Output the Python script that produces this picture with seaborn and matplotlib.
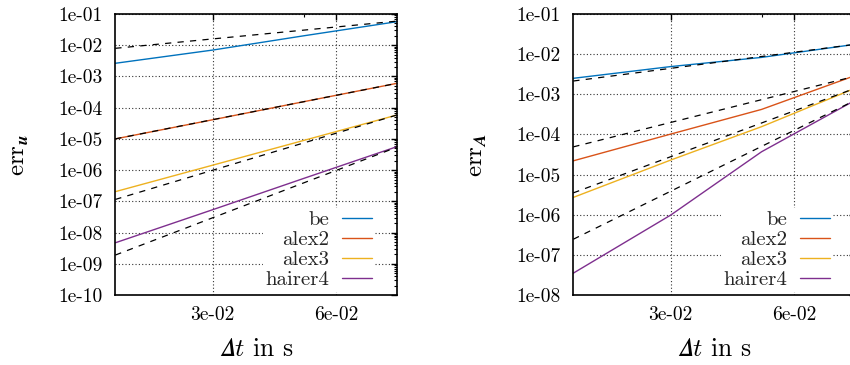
import numpy as np
import pandas as pd
import matplotlib
matplotlib.use('Agg')
import matplotlib.pyplot as plt
import seaborn as sns
from matplotlib.ticker import FixedLocator, NullFormatter, LogLocator
from matplotlib.lines import Line2D

# ---------------- data ----------------
methods = ['be', 'alex2', 'alex3', 'hairer4']
colors = ['#0072bd', '#d95319', '#edb120', '#7e2f8e']
dt = [0.01735, 0.03, 0.05, 0.0844]
ref_dt = [0.01735, 0.0844]

err_u_be = [2.64e-3, 7.0e-3, 2.0e-2, 5.66e-2]
err_u_alex2 = [1.0e-5, 4.1e-5, 1.55e-4, 6.0e-4]
err_u_alex3 = [2.04e-7, 1.44e-6, 8.9e-6, 5.8e-5]
err_u_hairer4 = [4.7e-9, 5.4e-8, 5.4e-7, 5.6e-6]

ref_u_be = [7.96e-3, 5.9e-2]
ref_u_alex2 = [1.0e-5, 6.0e-4]
ref_u_alex3 = [1.15e-7, 5.8e-5]
ref_u_hairer4 = [1.9e-9, 5.4e-6]

err_A_be = [2.5e-3, 4.9e-3, 8.3e-3, 1.75e-2]
err_A_alex2 = [2.2e-5, 1.02e-4, 4.2e-4, 2.9e-3]
err_A_alex3 = [2.7e-6, 2.3e-5, 1.56e-4, 1.4e-3]
err_A_hairer4 = [3.5e-8, 9.8e-7, 3.7e-5, 7.0e-4]

ref_A_be = [2.14e-3, 1.75e-2]
ref_A_alex2 = [4.9e-5, 2.8e-3]
ref_A_alex3 = [3.5e-6, 1.4e-3]
ref_A_hairer4 = [2.45e-7, 7.0e-4]

ytick_labels_u = ['1e-01', '1e-02', '1e-03', '1e-04', '1e-05', '1e-06',
                  '1e-07', '1e-08', '1e-09', '1e-10']
ytick_labels_A = ['1e-01', '1e-02', '1e-03', '1e-04', '1e-05', '1e-06',
                  '1e-07', '1e-08']
xtick_labels = ['3e-02', '6e-02']
xminor = [0.05]


def long_frame(xs, series):
    rows = []
    for m, vals in zip(methods, series):
        for x, y in zip(xs, vals):
            rows.append((m, x, y))
    return pd.DataFrame(rows, columns=['method', 'dt', 'err'])


df_u = long_frame(dt, [err_u_be, err_u_alex2, err_u_alex3, err_u_hairer4])
rf_u = long_frame(ref_dt, [ref_u_be, ref_u_alex2, ref_u_alex3, ref_u_hairer4])
df_A = long_frame(dt, [err_A_be, err_A_alex2, err_A_alex3, err_A_hairer4])
rf_A = long_frame(ref_dt, [ref_A_be, ref_A_alex2, ref_A_alex3, ref_A_hairer4])

# ---------------- style ----------------
sns.set_style('white')
plt.rcParams['font.family'] = ['cmr10', 'DejaVu Serif']
plt.rcParams['mathtext.fontset'] = 'cm'
plt.rcParams['axes.formatter.use_mathtext'] = True
plt.rcParams['axes.unicode_minus'] = False

fig = plt.figure(figsize=(8.5, 3.65), dpi=100)
W, H = 850.0, 365.0
ax1 = fig.add_axes([115.3 / W, 70 / H, 281.4 / W, 281 / H])
ax2 = fig.add_axes([573.3 / W, 70 / H, 281.4 / W, 281 / H])

XLABEL = '$\U0001D6E5t$ in s'
XLABEL_FALLBACK = r'$\Delta t$ in s'


def draw(ax, df, rf, ylabels, ylabel):
    ax.set_xscale('log')
    ax.set_yscale('log')
    sns.lineplot(data=df, x='dt', y='err', hue='method', hue_order=methods,
                 palette=colors, ax=ax, legend=False, errorbar=None,
                 sort=False, linewidth=1.0, zorder=2)
    sns.lineplot(data=rf, x='dt', y='err', units='method', estimator=None,
                 color='black', ax=ax, legend=False, linewidth=0.9,
                 linestyle=(0, (5, 5)), zorder=3)
    yt = [float(s) for s in ylabels]
    ax.set_ylim(min(yt), max(yt))
    ax.set_xlim(dt[0], dt[-1])
    ax.yaxis.set_major_locator(FixedLocator(yt))
    ax.set_yticklabels(ylabels)
    ax.yaxis.set_minor_locator(LogLocator(base=10, subs=np.arange(2, 10), numticks=50))
    ax.yaxis.set_minor_formatter(NullFormatter())
    xt = [float(s) for s in xtick_labels]
    ax.xaxis.set_major_locator(FixedLocator(xt))
    ax.set_xticklabels(xtick_labels)
    ax.xaxis.set_minor_locator(FixedLocator(xminor))
    ax.xaxis.set_minor_formatter(NullFormatter())
    ax.tick_params(which='both', direction='in', top=True, right=True,
                   labelsize=14, colors='black')
    ax.tick_params(which='major', length=4, width=1.0)
    ax.tick_params(which='minor', length=2.2, width=0.8)
    ax.tick_params(axis='y', pad=9)
    ax.tick_params(axis='x', pad=8)
    ax.grid(True, which='major', color='0.2', linestyle=(0, (1, 2)), linewidth=0.8)
    for sp in ax.spines.values():
        sp.set_linewidth(1.2)
        sp.set_color('black')
    ax.set_xlabel(XLABEL, fontsize=18.5, color='black')
    ax.set_ylabel(ylabel, fontsize=18, color='black')
    ax.yaxis.set_label_coords(-0.30, 0.5)
    ax.xaxis.set_label_coords(0.5, -0.150)
    handles = [Line2D([], [], color=c, lw=1.0) for c in colors]
    ax.legend(handles, methods, loc='lower right', bbox_to_anchor=(0.921, 0.012),
              markerfirst=False, frameon=True, framealpha=1, facecolor='white',
              edgecolor='none', fancybox=False, borderpad=0.12,
              handlelength=1.45, handletextpad=0.6, labelspacing=0.07,
              fontsize=15, borderaxespad=0)


draw(ax1, df_u, rf_u, ytick_labels_u, r'$\mathrm{err}_{\mathbfit{u}}$')
draw(ax2, df_A, rf_A, ytick_labels_A, r'$\mathrm{err}_{\mathbfit{A}}$')

try:
    fig.savefig('out.png', dpi=100)
except Exception:
    for ax in (ax1, ax2):
        ax.set_xlabel(XLABEL_FALLBACK, fontsize=18.5)
        ax.xaxis.set_label_coords(0.5, -0.150)
    ax1.set_ylabel(r'$\mathrm{err}_{\mathbf{u}}$', fontsize=18)
    ax2.set_ylabel(r'$\mathrm{err}_{\mathbf{A}}$', fontsize=18)
    ax1.yaxis.set_label_coords(-0.30, 0.5)
    ax2.yaxis.set_label_coords(-0.30, 0.5)
    fig.savefig('out.png', dpi=100)
